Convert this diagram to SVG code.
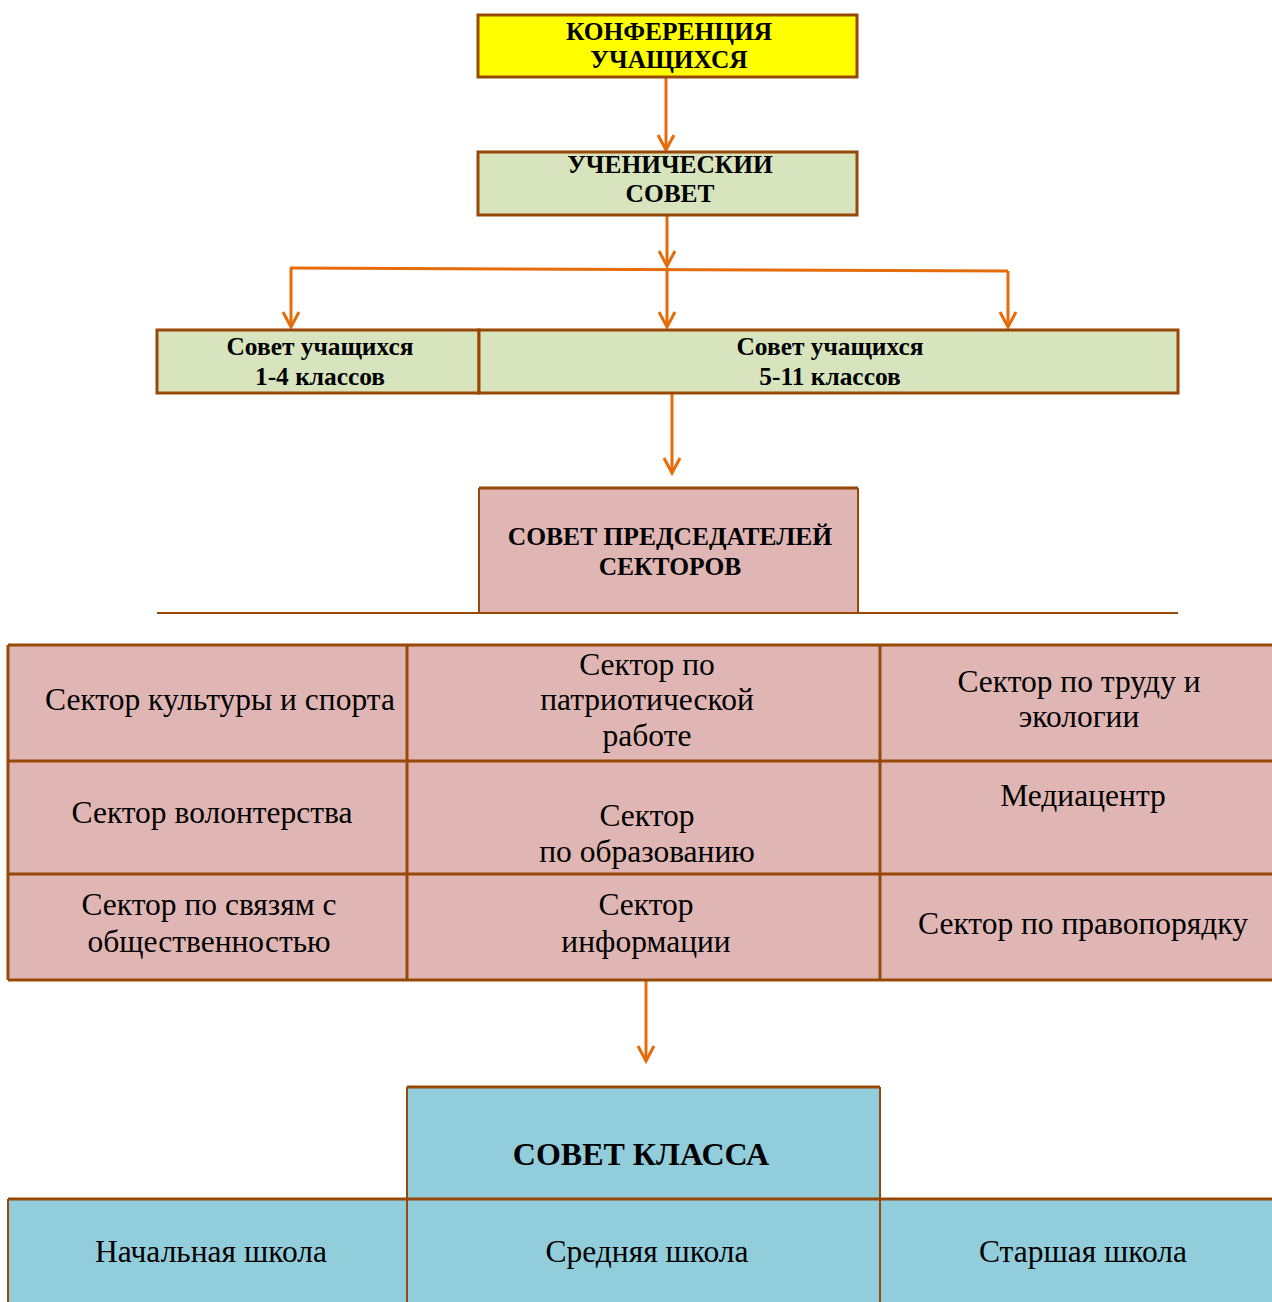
<svg xmlns="http://www.w3.org/2000/svg" width="1272" height="1302" viewBox="0 0 1272 1302">
<defs>
<style>
.bx{stroke:#984807;stroke-width:3}
.yel{fill:#FFFF00}
.grn{fill:#D7E4BD}
.pnk{fill:#E0B6B4}
.blu{fill:#92CDDC}
.ln{stroke:#984807;stroke-width:3;fill:none}
.ar{stroke:#E46C0A;stroke-width:3;fill:none}
text{font-family:"Liberation Serif","Times New Roman",serif;fill:#000;text-anchor:middle}
.b{font-weight:bold}
.t24{font-size:25.4px}
.t28{font-size:31.5px}
.tp{font-size:25.5px}
.t32{font-size:32px}
</style>
<marker id="ah" markerUnits="userSpaceOnUse" markerWidth="20" markerHeight="20" viewBox="-16 -10 18 20" refX="0" refY="0" orient="auto">
<path d="M-15,-8 L0,0 L-15,8" fill="none" stroke="#E46C0A" stroke-width="3"/>
</marker>
</defs>
<rect width="1272" height="1302" fill="#fff"/>

<g id="connectors">
<line class="ar" x1="666" y1="77" x2="666" y2="150" marker-end="url(#ah)"/>
<line class="ar" x1="667" y1="215" x2="667" y2="266" marker-end="url(#ah)"/>
<line class="ar" x1="290" y1="268" x2="1008" y2="271"/>
<line class="ar" x1="291" y1="268" x2="291" y2="327" marker-end="url(#ah)"/>
<line class="ar" x1="667" y1="268" x2="667" y2="327" marker-end="url(#ah)"/>
<line class="ar" x1="1008" y1="271" x2="1008" y2="327" marker-end="url(#ah)"/>
<line class="ar" x1="672" y1="393" x2="672" y2="473" marker-end="url(#ah)"/>
<line class="ar" x1="646" y1="980" x2="646" y2="1061" marker-end="url(#ah)"/>
</g>

<g id="conf">
<rect class="bx yel" x="478" y="15" width="379" height="62"/>
<text class="b t24" x="669" y="40">КОНФЕРЕНЦИЯ</text>
<text class="b t24" x="669" y="68">УЧАЩИХСЯ</text>
</g>

<g id="uch-sovet">
<rect class="bx grn" x="478" y="152" width="379" height="63"/>
<text class="b t24" x="670" y="173">УЧЕНИЧЕСКИИ</text>
<text class="b t24" x="670" y="202">СОВЕТ</text>
</g>

<g id="sovet-1-4">
<rect class="bx grn" x="157" y="330" width="322" height="63"/>
<text class="b t24" x="320" y="355">Совет учащихся</text>
<text class="b t24" x="320" y="385">1-4 классов</text>
</g>

<g id="sovet-5-11">
<rect class="bx grn" x="479" y="330" width="699" height="63"/>
<text class="b t24" x="830" y="355">Совет учащихся</text>
<text class="b t24" x="830" y="385">5-11 классов</text>
</g>

<g id="predsedateli">
<rect class="pnk" x="479" y="488" width="379" height="125"/>
<line class="ln" x1="479" y1="488" x2="858" y2="488"/>
<line x1="479" y1="488" x2="479" y2="613" stroke="#984807" stroke-width="2"/>
<line x1="858" y1="488" x2="858" y2="613" stroke="#984807" stroke-width="2"/>
<text class="b tp" x="670" y="545">СОВЕТ ПРЕДСЕДАТЕЛЕЙ</text>
<text class="b tp" x="670" y="575">СЕКТОРОВ</text>
<line x1="157" y1="613" x2="1178" y2="613" stroke="#984807" stroke-width="2"/>
</g>

<g id="sectors">
<rect class="pnk" x="8" y="645" width="1266" height="335"/>
<g class="ln">
<line x1="8" y1="645" x2="1272" y2="645"/>
<line x1="8" y1="761" x2="1272" y2="761"/>
<line x1="8" y1="874" x2="1272" y2="874"/>
<line x1="8" y1="980" x2="1272" y2="980"/>
<line x1="8" y1="645" x2="8" y2="980"/>
<line x1="407" y1="645" x2="407" y2="980"/>
<line x1="880" y1="645" x2="880" y2="980"/>
</g>
</g>
<g id="s-kultura"><text class="t28" x="220" y="710">Сектор культуры и спорта</text></g>
<g id="s-patriot"><text class="t28" x="647" y="675">Сектор по</text><text class="t28" x="647" y="710">патриотической</text><text class="t28" x="647" y="746">работе</text></g>
<g id="s-trud"><text class="t28" x="1079" y="692">Сектор по труду и</text><text class="t28" x="1079" y="727">экологии</text></g>
<g id="s-volont"><text class="t28" x="212" y="823">Сектор волонтерства</text></g>
<g id="s-obraz"><text class="t28" x="647" y="826">Сектор</text><text class="t28" x="647" y="862">по образованию</text></g>
<g id="s-media"><text class="t28" x="1083" y="806">Медиацентр</text></g>
<g id="s-svyaz"><text class="t28" x="209" y="915">Сектор по связям с</text><text class="t28" x="209" y="952">общественностью</text></g>
<g id="s-inform"><text class="t28" x="646" y="915">Сектор</text><text class="t28" x="646" y="952">информации</text></g>
<g id="s-pravo"><text class="t28" x="1083" y="934">Сектор по правопорядку</text></g>

<g id="sovet-klassa">
<rect class="blu" x="407" y="1087" width="473" height="112"/>
<line class="ln" x1="407" y1="1087" x2="880" y2="1087"/>
<line x1="407" y1="1087" x2="407" y2="1199" stroke="#984807" stroke-width="2"/>
<line x1="880" y1="1087" x2="880" y2="1199" stroke="#984807" stroke-width="2"/>
<text class="b t32" x="641" y="1165">СОВЕТ КЛАССА</text>
</g>

<g id="schools">
<rect class="blu" x="8" y="1199" width="1266" height="105"/>
<line class="ln" x1="8" y1="1199" x2="1272" y2="1199"/>
<line x1="8" y1="1199" x2="8" y2="1302" stroke="#984807" stroke-width="2"/>
<line x1="407" y1="1199" x2="407" y2="1302" stroke="#984807" stroke-width="2"/>
<line x1="880" y1="1199" x2="880" y2="1302" stroke="#984807" stroke-width="2"/>
</g>
<g id="nachalnaya"><text class="t28" x="211" y="1262">Начальная школа</text></g>
<g id="srednyaya"><text class="t28" x="647" y="1262">Средняя школа</text></g>
<g id="starshaya"><text class="t28" x="1083" y="1262">Старшая школа</text></g>
</svg>
